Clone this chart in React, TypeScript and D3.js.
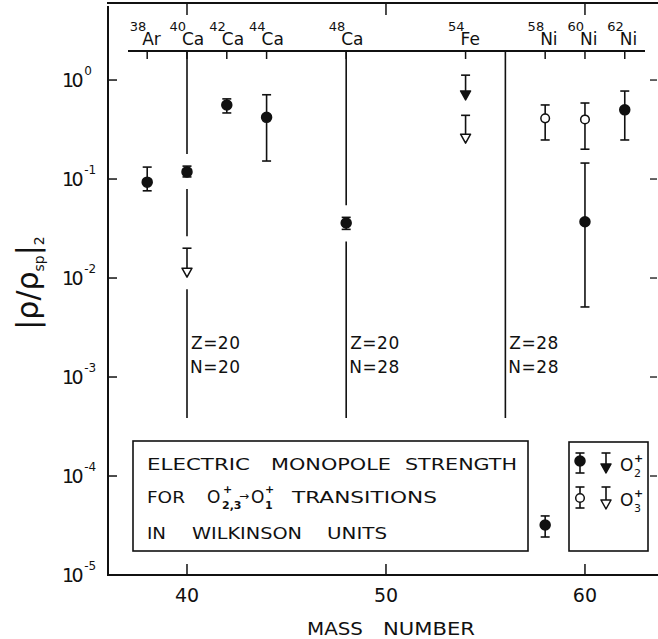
import React from 'react';
import * as d3 from 'd3';

// ---- data ----
const isotopeMasses = [38, 40, 42, 44, 48, 54, 58, 60, 62];
const isotopeElements = ['Ar', 'Ca', 'Ca', 'Ca', 'Ca', 'Fe', 'Ni', 'Ni', 'Ni'];

// O2+ measured (filled circles)
const o2Mass = [38, 40, 42, 44, 48, 58, 60, 62];
const o2Value = [0.093, 0.118, 0.56, 0.42, 0.036, 3.2e-5, 0.037, 0.5];
const o2Low = [0.076, 0.105, 0.465, 0.152, 0.031, 2.42e-5, 0.0051, 0.248];
const o2High = [0.132, 0.135, 0.645, 0.71, 0.041, 3.95e-5, 0.145, 0.774];

// O3+ measured (open circles)
const o3Mass = [58, 60];
const o3Value = [0.41, 0.4];
const o3Low = [0.248, 0.2];
const o3High = [0.56, 0.586];

// upper limits (arrows)
const o2LimitMass = [54];
const o2LimitTop = [1.12];
const o2LimitTip = [0.63];
const o3LimitMass = [40, 54];
const o3LimitTop = [0.02, 0.44];
const o3LimitTip = [0.0102, 0.23];

// shell closures
const shellMass = [40, 48, 56];
const shellZ = [20, 20, 28];
const shellN = [20, 28, 28];

const yTickExponents = [0, -1, -2, -3, -4, -5];
const xTicks = [40, 50, 60];

// ---- layout ----
const W = 658;
const H = 639;
const FONT = 'DejaVu Sans';
const INK = '#111';

const x = d3.scaleLinear().domain([36.03, 63.62]).range([108, 657]);
const y = d3.scaleLog().domain([1e-5, 6]).range([575, 3]);

const LABEL_LINE_Y = 51;
const SHELL_BOTTOM = 418;

function Cap({ cx, cy }: { cx: number; cy: number }) {
  return <line x1={cx - 4.5} x2={cx + 4.5} y1={cy} y2={cy} stroke={INK} strokeWidth={1.6} />;
}

function ErrPoint({ cx, vy, ly, hy, filled }: { cx: number; vy: number; ly: number; hy: number; filled: boolean }) {
  return (
    <g>
      <line x1={cx} x2={cx} y1={hy} y2={ly} stroke={INK} strokeWidth={1.6} />
      <Cap cx={cx} cy={hy} />
      <Cap cx={cx} cy={ly} />
      <circle cx={cx} cy={vy} r={filled ? 5 : 4.3} fill={filled ? INK : '#fff'} stroke={INK} strokeWidth={1.5} />
    </g>
  );
}

function Limit({ cx, ty, tipy, filled }: { cx: number; ty: number; tipy: number; filled: boolean }) {
  const th = 9;
  return (
    <g>
      <line x1={cx} x2={cx} y1={ty} y2={tipy - th} stroke={INK} strokeWidth={1.6} />
      <Cap cx={cx} cy={ty} />
      <path
        d={`M${cx - 5},${tipy - th} L${cx + 5},${tipy - th} L${cx},${tipy} Z`}
        fill={filled ? INK : '#fff'}
        stroke={INK}
        strokeWidth={1.5}
        strokeLinejoin="round"
      />
    </g>
  );
}

function shellSegments(m: number): [number, number][] {
  const gaps: [number, number][] = [];
  o2Mass.forEach((mm, i) => {
    if (mm === m) gaps.push([y(o2High[i]) - 12, y(o2Low[i]) + 12]);
  });
  o3Mass.forEach((mm, i) => {
    if (mm === m) gaps.push([y(o3High[i]) - 12, y(o3Low[i]) + 12]);
  });
  o2LimitMass.forEach((mm, i) => {
    if (mm === m) gaps.push([y(o2LimitTop[i]) - 12, y(o2LimitTip[i]) + 12]);
  });
  o3LimitMass.forEach((mm, i) => {
    if (mm === m) gaps.push([y(o3LimitTop[i]) - 12, y(o3LimitTip[i]) + 12]);
  });
  gaps.sort((a, b) => a[0] - b[0]);
  const segs: [number, number][] = [];
  let start = LABEL_LINE_Y;
  gaps.forEach(([g0, g1]) => {
    if (g0 > start) segs.push([start, g0]);
    start = Math.max(start, g1);
  });
  if (start < SHELL_BOTTOM) segs.push([start, SHELL_BOTTOM]);
  return segs;
}

export default function App() {
  const decadeTicks = yTickExponents.filter((e) => e > -5);
  return (
    <svg
      width={W}
      height={H}
      viewBox={`0 0 ${W} ${H}`}
      style={{ position: 'absolute', left: 0, top: 0, background: '#fff' }}
      fontFamily={FONT}
    >
      <rect x={0} y={0} width={W} height={H} fill="#fff" />

      {/* frame */}
      <line x1={108} x2={108} y1={6} y2={575} stroke={INK} strokeWidth={2} />
      <line x1={107} x2={658} y1={575} y2={575} stroke={INK} strokeWidth={2} />
      <line x1={107} x2={658} y1={3} y2={3} stroke={INK} strokeWidth={2} />

      {/* left ticks + labels */}
      {decadeTicks.map((e) => (
        <line key={'lt' + e} x1={108} x2={117} y1={y(Math.pow(10, e))} y2={y(Math.pow(10, e))} stroke={INK} strokeWidth={1.5} />
      ))}
      {decadeTicks.map((e) => (
        <line key={'rt' + e} x1={650} x2={657} y1={y(Math.pow(10, e))} y2={y(Math.pow(10, e))} stroke={INK} strokeWidth={1.3} />
      ))}
      {yTickExponents.map((e) => {
        const yy = y(Math.pow(10, e));
        return (
          <text key={'yl' + e} x={62} y={yy + 7} fontSize={19} fill={INK}>
            <tspan letterSpacing={-2.5}>10</tspan>
            <tspan dx={3} dy={-12} fontSize={12}>
              {e === 0 ? '0' : '-' + Math.abs(e)}
            </tspan>
          </text>
        );
      })}

      {/* bottom and top ticks */}
      {xTicks.map((t) => (
        <g key={'xt' + t}>
          <line x1={x(t)} x2={x(t)} y1={575} y2={564} stroke={INK} strokeWidth={1.5} />
          <line x1={x(t)} x2={x(t)} y1={3} y2={15} stroke={INK} strokeWidth={1.5} />
          <text x={x(t)} y={602} fontSize={19} textAnchor="middle" fill={INK}>
            {t}
          </text>
        </g>
      ))}

      {/* axis titles */}
      <text x={307} y={635} fontSize={17} textLength={56} lengthAdjust="spacingAndGlyphs" fill={INK}>
        MASS
      </text>
      <text x={383} y={635} fontSize={17} textLength={92} lengthAdjust="spacingAndGlyphs" fill={INK}>
        NUMBER
      </text>
      <g transform="translate(38,283) rotate(-90)">
        <text textAnchor="middle" fontSize={30} fill={INK}>
          <tspan>|ρ/ρ</tspan>
          <tspan fontSize={14} dy={6}>sp</tspan>
          <tspan dy={-6}>|</tspan>
          <tspan fontSize={14} dy={6}>2</tspan>
        </text>
      </g>

      {/* isotope label line */}
      <line x1={128} x2={645} y1={LABEL_LINE_Y} y2={LABEL_LINE_Y} stroke={INK} strokeWidth={1.8} />
      {isotopeMasses.map((m, i) => (
        <g key={'iso' + i}>
          <line x1={x(m)} x2={x(m)} y1={LABEL_LINE_Y} y2={LABEL_LINE_Y + 8} stroke={INK} strokeWidth={1.5} />
          <text x={x(m) - 1} y={31} fontSize={13} textAnchor="end" fill={INK}>
            {m}
          </text>
          <text x={x(m) - 5} y={45} fontSize={17} fill={INK}>
            {isotopeElements[i]}
          </text>
        </g>
      ))}

      {/* shell closure lines */}
      {shellMass.map((m, i) => (
        <g key={'sh' + i}>
          {shellSegments(m).map(([a, b], j) => (
            <line key={j} x1={x(m)} x2={x(m)} y1={a} y2={b} stroke={INK} strokeWidth={1.6} />
          ))}
          <text x={x(m) + 4} y={349} fontSize={17} fill={INK} letterSpacing={0.5}>
            {`Z=${shellZ[i]}`}
          </text>
          <text x={x(m) + 3} y={373} fontSize={17} fill={INK} letterSpacing={0.5}>
            {`N=${shellN[i]}`}
          </text>
        </g>
      ))}

      {/* data */}
      {o2Mass.map((m, i) => (
        <ErrPoint key={'o2' + i} cx={x(m)} vy={y(o2Value[i])} ly={y(o2Low[i])} hy={y(o2High[i])} filled />
      ))}
      {o3Mass.map((m, i) => (
        <ErrPoint key={'o3' + i} cx={x(m)} vy={y(o3Value[i])} ly={y(o3Low[i])} hy={y(o3High[i])} filled={false} />
      ))}
      {o2LimitMass.map((m, i) => (
        <Limit key={'l2' + i} cx={x(m)} ty={y(o2LimitTop[i])} tipy={y(o2LimitTip[i])} filled />
      ))}
      {o3LimitMass.map((m, i) => (
        <Limit key={'l3' + i} cx={x(m)} ty={y(o3LimitTop[i])} tipy={y(o3LimitTip[i])} filled={false} />
      ))}

      {/* title box */}
      <rect x={133} y={441} width={395} height={110} fill="none" stroke={INK} strokeWidth={1.6} />
      <g fontSize={16} fill={INK}>
        <text x={147} y={470} textLength={103} lengthAdjust="spacingAndGlyphs">ELECTRIC</text>
        <text x={271} y={470} textLength={120} lengthAdjust="spacingAndGlyphs">MONOPOLE</text>
        <text x={405} y={470} textLength={112} lengthAdjust="spacingAndGlyphs">STRENGTH</text>

        <text x={147} y={503} textLength={38} lengthAdjust="spacingAndGlyphs">FOR</text>
        <text x={207} y={503} fontSize={17}>O</text>
        <text x={222} y={509} fontSize={11} fontWeight="bold">2,3</text>
        <text x={223} y={493} fontSize={11} fontWeight="bold">+</text>
        <text x={239} y={500} fontSize={12}>→</text>
        <text x={251} y={503} fontSize={17}>O</text>
        <text x={265} y={509} fontSize={11} fontWeight="bold">1</text>
        <text x={265} y={493} fontSize={11} fontWeight="bold">+</text>
        <text x={292} y={503} textLength={145} lengthAdjust="spacingAndGlyphs">TRANSITIONS</text>

        <text x={147} y={539} textLength={19} lengthAdjust="spacingAndGlyphs">IN</text>
        <text x={192} y={539} textLength={110} lengthAdjust="spacingAndGlyphs">WILKINSON</text>
        <text x={327} y={539} textLength={60} lengthAdjust="spacingAndGlyphs">UNITS</text>
      </g>

      {/* legend box */}
      <rect x={569} y={442} width={79} height={109} fill="none" stroke={INK} strokeWidth={1.6} />
      <ErrPoint cx={580} vy={461} ly={473} hy={453} filled />
      <Limit cx={606} ty={453} tipy={473} filled />
      <text x={620} y={471} fontSize={17} fill={INK}>O</text>
      <text x={634} y={477} fontSize={11} fill={INK}>2</text>
      <text x={634} y={462} fontSize={11} fontWeight="bold" fill={INK}>+</text>
      <ErrPoint cx={580} vy={498} ly={508} hy={487} filled={false} />
      <Limit cx={606} ty={487} tipy={509} filled={false} />
      <text x={620} y={506} fontSize={17} fill={INK}>O</text>
      <text x={634} y={512} fontSize={11} fill={INK}>3</text>
      <text x={634} y={497} fontSize={11} fontWeight="bold" fill={INK}>+</text>
    </svg>
  );
}
